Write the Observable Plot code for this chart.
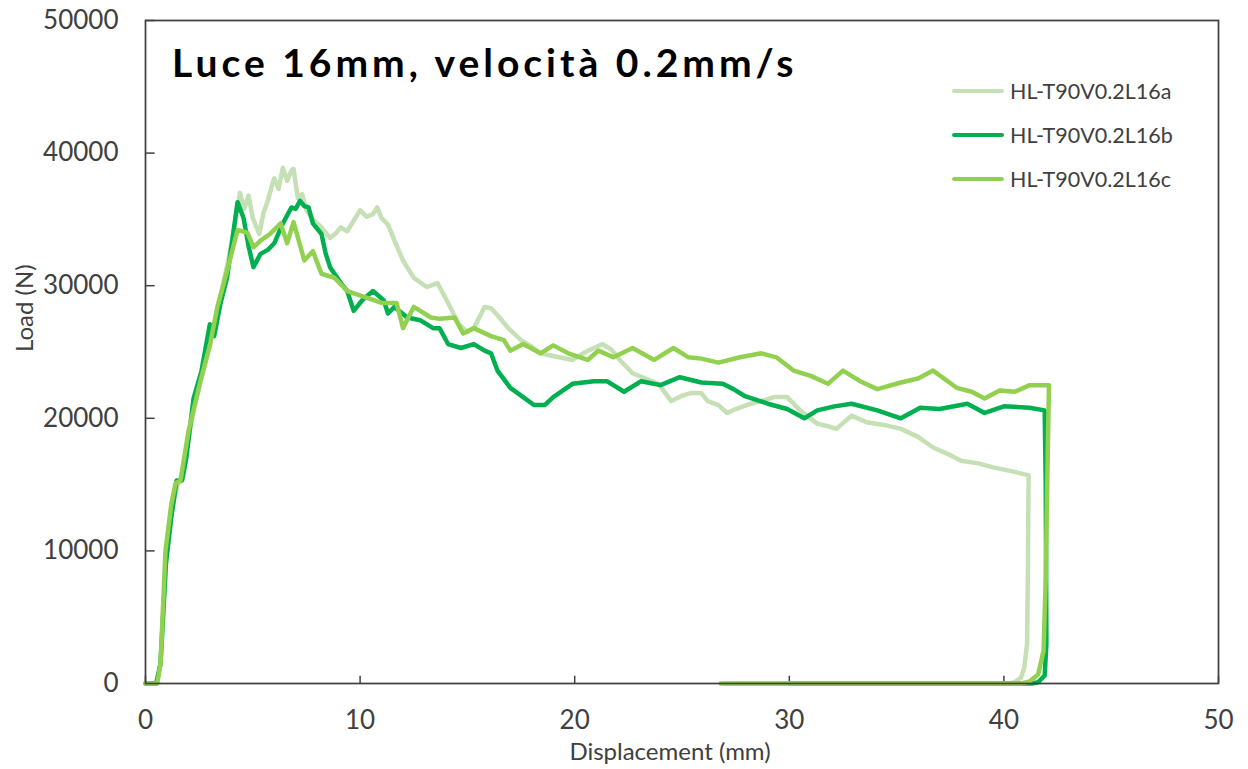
<!DOCTYPE html>
<html><head><meta charset="utf-8">
<script src="https://cdn.jsdelivr.net/npm/d3@7"></script>
<script src="https://cdn.jsdelivr.net/npm/@observablehq/plot@0.6"></script>
<style>
body{margin:0;background:#fff;}
#wrap{position:relative;width:1248px;height:769px;font-family:Lato, sans-serif;}
#title{position:absolute;left:172px;top:62px;transform:translateY(-50%);font-weight:bold;font-size:39px;color:#000;letter-spacing:4px;white-space:nowrap;}
.leg{position:absolute;left:952px;transform:translateY(-50%);display:flex;align-items:center;font-size:21.5px;color:#404040;white-space:nowrap;}
.sw{width:52px;height:4px;margin-right:6px;border-radius:2px;}
</style></head>
<body><div id="wrap"></div>
<script>
const seriesNames = ["HL-T90V0.2L16a", "HL-T90V0.2L16b", "HL-T90V0.2L16c"];
const seriesColors = ["#c5e0b4", "#00b050", "#92d050"];
const titleText = "Luce 16mm, velocità 0.2mm/s";
const xLabel = "Displacement (mm)";
const yLabel = "Load (N)";
const xTicks = [0, 10, 20, 30, 40, 50];
const xTickLabels = ["0", "10", "20", "30", "40", "50"];
const yTicks = [0, 10000, 20000, 30000, 40000, 50000];
const yTickLabels = ["0", "10000", "20000", "30000", "40000", "50000"];

const aX = [0,0.5,0.7,0.95,1.2,1.5,1.75,2.0,2.3,2.6,3.0,3.4,3.8,4.1,4.4,4.6,4.8,5.0,5.3,5.5,5.7,5.9,6.0,6.2,6.4,6.6,6.8,6.9,7.1,7.3,7.5,7.8,8.2,8.6,8.9,9.1,9.4,9.7,10.0,10.3,10.6,10.8,11.0,11.3,11.6,12.0,12.5,13.1,13.6,14.1,14.6,15.0,15.3,15.8,16.1,16.5,16.9,17.5,18.0,18.4,19.0,19.9,20.5,21.3,21.7,22.1,22.7,23.3,23.9,24.5,25.0,25.4,25.9,26.2,26.7,27.1,27.5,28.2,28.7,29.3,29.9,30.5,31.3,31.8,32.2,32.9,33.6,34.4,35.2,36.0,36.7,37.4,38.0,38.8,39.5,40.4,41.15,41.12,41.08,40.95,40.8,40.5,40.2,27.0];
const aY = [0,0,1500,9000,13000,15000,15500,18500,21000,23000,25500,28500,31500,34000,37000,35800,36800,35100,33900,35500,36400,37600,38100,37300,38900,37900,38700,38800,36600,36900,35700,35000,34400,33600,34000,34400,34100,34900,35700,35200,35400,35900,35100,34600,33400,31900,30600,29900,30200,28700,27100,26500,26800,28400,28300,27600,26800,25900,25400,24900,24700,24400,25000,25600,25200,24400,23400,23000,22600,21300,21700,21900,21900,21300,21000,20400,20700,21100,21300,21600,21600,20600,19600,19400,19200,20200,19700,19500,19200,18600,17800,17300,16800,16600,16300,16000,15700,9000,3000,1200,450,100,0,0];

const bX = [0,0.5,0.7,0.95,1.2,1.45,1.7,1.9,2.24,2.6,3.0,3.2,3.5,3.8,4.05,4.29,4.57,4.8,5.03,5.36,5.7,6.0,6.4,6.8,7.0,7.2,7.4,7.6,7.8,8.2,8.4,8.6,9.1,9.4,9.7,10.1,10.6,11.1,11.3,11.6,12.2,12.8,13.4,13.7,14.1,14.7,15.3,15.8,16.1,16.4,17.0,17.6,18.1,18.6,19.0,19.9,20.9,21.5,22.3,23.1,24.0,24.9,25.9,26.9,27.4,27.9,29.0,29.9,30.7,31.3,32.1,32.9,34.1,35.2,36.1,37.0,38.3,39.1,40.0,41.2,41.9,41.95,41.98,41.9,41.6,41.3,30.0];
const bY = [0,0,1500,9000,12500,15300,15300,17000,21500,23500,27100,26200,28700,30600,33500,36300,35100,33000,31400,32400,32700,33200,34700,35900,35800,36400,36000,35900,34700,33900,32400,31400,30200,29600,28100,28900,29600,28900,27900,28400,27600,27400,26800,26800,25600,25300,25600,25100,24900,23600,22300,21600,21000,21000,21600,22600,22800,22800,22000,22800,22500,23100,22700,22600,22200,21700,21100,20700,20000,20600,20900,21100,20600,20000,20800,20700,21100,20400,20900,20800,20600,15000,3000,600,100,0,0];

const cX = [0,0.55,0.7,0.93,1.2,1.4,1.63,2.0,2.56,3.0,3.35,3.8,4.29,4.75,5.03,5.36,5.8,6.3,6.6,6.9,7.4,7.8,8.2,8.8,9.4,10.3,11.0,11.7,12.0,12.5,13.3,13.7,14.4,14.8,15.3,16.1,16.7,17.0,17.6,18.4,19.0,19.7,20.6,21.1,21.8,22.7,23.7,24.6,25.3,25.9,26.7,27.7,28.7,29.4,30.2,31.0,31.8,32.5,33.3,34.1,35.2,36.0,36.7,37.8,38.5,39.1,39.8,40.5,41.2,42.1,42.05,41.95,41.85,41.6,41.2,40.8,26.8];
const cY = [0,0,1500,10000,13500,15100,15300,19000,22800,25500,28400,31100,34200,34000,32900,33400,33900,34700,33200,34800,31900,32600,30900,30600,29600,29100,28700,28700,26800,28400,27600,27500,27600,26400,26800,26200,25900,25100,25600,24900,25500,24900,24400,25100,24600,25300,24400,25300,24600,24500,24200,24600,24900,24600,23600,23200,22600,23600,22800,22200,22700,23000,23600,22300,22000,21500,22100,22000,22500,22500,18000,8000,2500,700,150,0,0];

const xs = [aX, bX, cX], ys = [aY, bY, cY];
const rows = [];
seriesNames.forEach((name, s) => xs[s].forEach((x, i) => rows.push({series: name, x, y: ys[s][i]})));

const ink = "#404040";
const chart = Plot.plot({
  width: 1248, height: 769,
  marginLeft: 145, marginRight: 30, marginTop: 20, marginBottom: 86,
  style: {fontFamily: "Lato, sans-serif", color: ink, background: "#fff"},
  x: {domain: [0, 50]},
  y: {domain: [0, 50000]},
  color: {domain: seriesNames, range: seriesColors},
  marks: [
    Plot.axisX({ticks: xTicks, tickSize: 0, tickPadding: 27, fontSize: 26, tickFormat: (d, i) => xTickLabels[i], label: null}),
    Plot.axisY({ticks: yTicks, tickSize: 0, tickPadding: 27, fontSize: 26, tickFormat: (d, i) => yTickLabels[i], label: null}),
    Plot.ruleX(xTicks, {x: d => d, y1: 0, y2: 550, stroke: ink, strokeWidth: 1.5}),
    Plot.ruleY(yTicks, {y: d => d, x1: 0, x2: 0.45, stroke: ink, strokeWidth: 1.5}),
    Plot.line(rows, {x: "x", y: "y", z: "series", stroke: "series", strokeWidth: 4.5, strokeLinejoin: "round", strokeLinecap: "round"}),
    Plot.frame({stroke: ink, strokeWidth: 1.75}),
    Plot.text([xLabel], {frameAnchor: "bottom", dx: -12, dy: 69, fontSize: 24, fill: ink, lineAnchor: "middle"}),
    Plot.text([yLabel], {frameAnchor: "left", dx: -120, rotate: -90, fontSize: 24, fill: ink, lineAnchor: "middle"})
  ]
});
const wrap = document.getElementById("wrap");
wrap.appendChild(chart);
const t = document.createElement("div");
t.id = "title"; t.textContent = titleText; wrap.appendChild(t);
const legY = [91, 135, 179];
seriesNames.forEach((n, i) => {
  const d = document.createElement("div");
  d.className = "leg"; d.style.top = legY[i] + "px";
  const sw = document.createElement("span"); sw.className = "sw"; sw.style.background = seriesColors[i];
  const tx = document.createElement("span"); tx.textContent = n;
  d.appendChild(sw); d.appendChild(tx); wrap.appendChild(d);
});
</script></body></html>
